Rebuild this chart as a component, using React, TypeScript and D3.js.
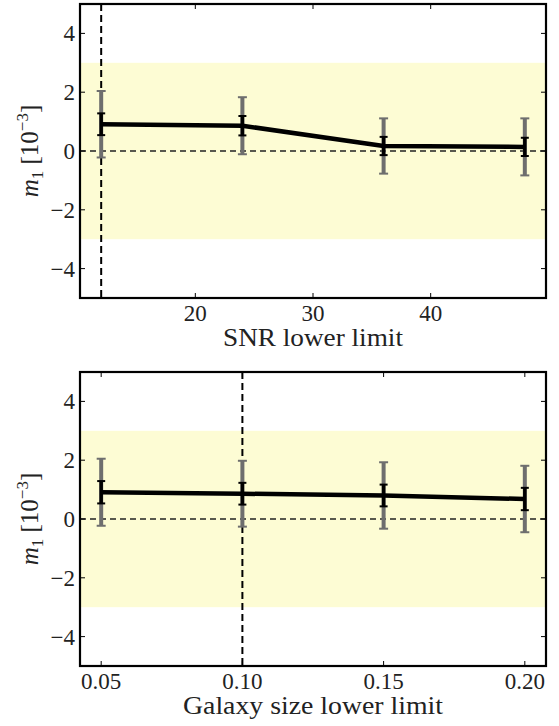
import React from "react";
import * as d3 from "d3";

// ---- data ----
const snrX = [12, 24, 36, 48];
const snrY = [0.91, 0.86, 0.17, 0.14];
const snrErrStat = [0.37, 0.33, 0.31, 0.31];
const snrErrTot = [1.13, 0.97, 0.94, 0.97];
const snrTicks = [20, 30, 40];
const snrTickLabels = ["20", "30", "40"];
const snrMarker = 12;

const sizeX = [0.05, 0.1, 0.15, 0.2];
const sizeY = [0.91, 0.86, 0.8, 0.68];
const sizeErrStat = [0.38, 0.37, 0.37, 0.38];
const sizeErrTot = [1.14, 1.12, 1.13, 1.13];
const sizeTicks = [0.05, 0.1, 0.15, 0.2];
const sizeTickLabels = ["0.05", "0.10", "0.15", "0.20"];
const sizeMarker = 0.1;

const yTicks = [-4, -2, 0, 2, 4];
const yTickLabels = ["\u22124", "\u22122", "0", "2", "4"];
const bandLow = -3;
const bandHigh = 3;

const FONT = "Liberation Serif";

type PanelProps = {
  top: number;
  xs: number[];
  ys: number[];
  errStat: number[];
  errTot: number[];
  ticks: number[];
  tickLabels: string[];
  marker: number;
  xLabel: string;
  xLabelLen: number;
};

function Panel(p: PanelProps) {
  const left = 80;
  const right = 546;
  const h = 294;
  const bottom = p.top + h;
  const lo = d3.min(p.xs)!;
  const hi = d3.max(p.xs)!;
  const pad = (hi - lo) * 0.05;
  const x = d3.scaleLinear().domain([lo - pad, hi + pad]).range([left, right]);
  const y = d3.scaleLinear().domain([-5, 5]).range([bottom, p.top]);
  const line = d3
    .line<number>()
    .x((_, i) => x(p.xs[i]))
    .y((d) => y(d));
  const tl = 5;
  return (
    <g>
      <rect x={left} y={y(bandHigh)} width={right - left} height={y(bandLow) - y(bandHigh)} fill="#fdfcd4" />
      <line x1={left} x2={right} y1={y(0)} y2={y(0)} stroke="#222" strokeWidth={1.6} strokeDasharray="6,4" />
      <line x1={x(p.marker)} x2={x(p.marker)} y1={p.top} y2={bottom} stroke="#000" strokeWidth={2} strokeDasharray="7,4" />
      {p.xs.map((xv, i) => {
        const cx = x(xv);
        return (
          <g key={"t" + i}>
            <line x1={cx} x2={cx} y1={y(p.ys[i] + p.errTot[i])} y2={y(p.ys[i] - p.errTot[i])} stroke="#6e6e6e" strokeWidth={4} />
            <line x1={cx - 4.5} x2={cx + 4.5} y1={y(p.ys[i] + p.errTot[i])} y2={y(p.ys[i] + p.errTot[i])} stroke="#6e6e6e" strokeWidth={2} />
            <line x1={cx - 4.5} x2={cx + 4.5} y1={y(p.ys[i] - p.errTot[i])} y2={y(p.ys[i] - p.errTot[i])} stroke="#6e6e6e" strokeWidth={2} />
          </g>
        );
      })}
      <path d={line(p.ys) || ""} fill="none" stroke="#000" strokeWidth={4.5} strokeLinejoin="round" />
      {p.xs.map((xv, i) => {
        const cx = x(xv);
        return (
          <g key={"s" + i}>
            <line x1={cx} x2={cx} y1={y(p.ys[i] + p.errStat[i])} y2={y(p.ys[i] - p.errStat[i])} stroke="#000" strokeWidth={3.5} />
            <line x1={cx - 4} x2={cx + 4} y1={y(p.ys[i] + p.errStat[i])} y2={y(p.ys[i] + p.errStat[i])} stroke="#000" strokeWidth={2} />
            <line x1={cx - 4} x2={cx + 4} y1={y(p.ys[i] - p.errStat[i])} y2={y(p.ys[i] - p.errStat[i])} stroke="#000" strokeWidth={2} />
          </g>
        );
      })}
      {p.ticks.map((t, i) => (
        <g key={"xt" + i}>
          <line x1={x(t)} x2={x(t)} y1={bottom} y2={bottom - tl} stroke="#000" strokeWidth={1} />
          <line x1={x(t)} x2={x(t)} y1={p.top} y2={p.top + tl} stroke="#000" strokeWidth={1} />
        </g>
      ))}
      {yTicks.map((t, i) => (
        <g key={"yt" + i}>
          <line x1={left} x2={left + tl} y1={y(t)} y2={y(t)} stroke="#000" strokeWidth={1} />
          <line x1={right} x2={right - tl} y1={y(t)} y2={y(t)} stroke="#000" strokeWidth={1} />
        </g>
      ))}
      <rect x={left} y={p.top} width={right - left} height={h} fill="none" stroke="#000" strokeWidth={2.2} />
      <g fill="#222" fontFamily={FONT} style={{ fontFamily: FONT }}>
        {p.ticks.map((t, i) => (
          <text key={"xl" + i} x={x(t)} y={bottom + 23} textAnchor="middle" fontSize={23}>
            {p.tickLabels[i]}
          </text>
        ))}
        {yTicks.map((t, i) => (
          <text key={"yl" + i} x={75} y={y(t) + 8} textAnchor="end" fontSize={23}>
            {yTickLabels[i]}
          </text>
        ))}
        <text x={(left + right) / 2} y={bottom + 48} textAnchor="middle" fontSize={25} textLength={p.xLabelLen} lengthAdjust="spacingAndGlyphs">
          {p.xLabel}
        </text>
        <text transform={`translate(38,${(p.top + bottom) / 2}) rotate(-90)`} textAnchor="middle" fontSize={25}>
          <tspan fontStyle="italic">m</tspan>
          <tspan fontSize={17} dy={5}>1</tspan>
          <tspan dy={-5}> [10</tspan>
          <tspan fontSize={17} dy={-10}>{"\u22123"}</tspan>
          <tspan dy={10}>]</tspan>
        </text>
      </g>
    </g>
  );
}

export default function App() {
  return (
    <svg width={559} height={726} style={{ position: "absolute", left: 0, top: 0, background: "#fff" }}>
      <Panel top={4} xs={snrX} ys={snrY} errStat={snrErrStat} errTot={snrErrTot} ticks={snrTicks} tickLabels={snrTickLabels} marker={snrMarker} xLabel="SNR lower limit" xLabelLen={180} />
      <Panel top={372} xs={sizeX} ys={sizeY} errStat={sizeErrStat} errTot={sizeErrTot} ticks={sizeTicks} tickLabels={sizeTickLabels} marker={sizeMarker} xLabel="Galaxy size lower limit" xLabelLen={260} />
    </svg>
  );
}
